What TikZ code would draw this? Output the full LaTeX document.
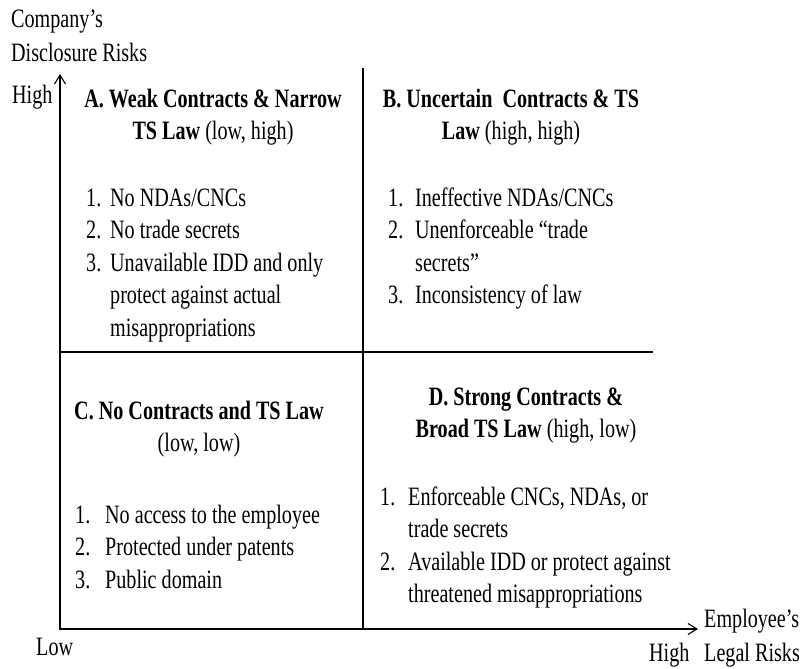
\documentclass[tikz,border=0pt]{standalone}
\usepackage{fontspec}
\setmainfont{Liberation Serif}[FakeStretch=0.76]
\usetikzlibrary{arrows.meta}
\newcommand\fsz{\fontsize{26.5}{32.5}\selectfont}
\begin{document}
\begin{tikzpicture}[x=1pt,y=-1pt,
  lbl/.style={inner sep=0pt, anchor=base west, font=\fsz},
  ttl/.style={inner sep=0pt, anchor=base, font=\fsz},
  axis/.style={line width=1.6pt, {Straight Barb[length=9pt,width=11pt,line width=1.1pt]}-{Straight Barb[length=9pt,width=11pt,line width=1.1pt]}},
  divider/.style={line width=1.5pt}]
\useasboundingbox (0,0) rectangle (801,669);
% coordinates
\coordinate (O) at (60,629);
\coordinate (ytip) at (60,74);
\coordinate (xtip) at (698,629);
\coordinate (vtop) at (363,68);
\coordinate (vbot) at (363,629);
\coordinate (hleft) at (60,352);
\coordinate (hright) at (653,352);
% lines
\draw[divider] (vtop) -- (vbot);
\draw[divider] (hleft) -- (hright);
\draw[axis] (ytip) -- (O) -- (xtip);
% axis labels
\node[lbl] (ylab1) at (11,28) {Company’s};
\node[lbl] (ylab2) at (11,62) {Disclosure Risks};
\node[lbl] (yhigh) at (12,103) {High};
\node[lbl] (low) at (36,655) {Low};
\node[lbl] (xhigh) at (649,661) {High};
\node[lbl] (xlab1) at (704,627) {Employee’s};
\node[lbl] (xlab2) at (704,661) {Legal Risks};
% titles
\node[ttl] (tA) at (213,107) {\begin{tabular}[t]{@{}c@{}}\textbf{A. Weak Contracts \& Narrow}\\\textbf{TS Law} (low, high)\end{tabular}};
\node[ttl] (tB) at (511,107) {\begin{tabular}[t]{@{}c@{}}\textbf{B. Uncertain\ \ Contracts \& TS}\\\textbf{Law} (high, high)\end{tabular}};
\node[ttl] (tC) at (199,419) {\begin{tabular}[t]{@{}c@{}}\textbf{C. No Contracts and TS Law}\\(low, low)\end{tabular}};
\node[ttl] (tD) at (526,405) {\begin{tabular}[t]{@{}c@{}}\textbf{D. Strong Contracts \&}\\\textbf{Broad TS Law} (high, low)\end{tabular}};
% lists
\node[lbl] (listA) at (86,206) {\begin{tabular}[t]{@{}p{24pt}@{}l@{}}1.& No NDAs/CNCs\\2.& No trade secrets\\3.& Unavailable IDD and only\\& protect against actual\\& misappropriations\end{tabular}};
\node[lbl] (listB) at (388,206) {\begin{tabular}[t]{@{}p{27pt}@{}l@{}}1.& Ineffective NDAs/CNCs\\2.& Unenforceable “trade\\& secrets”\\3.& Inconsistency of law\end{tabular}};
\node[lbl] (listC) at (75,523) {\begin{tabular}[t]{@{}p{30pt}@{}l@{}}1.& No access to the employee\\2.& Protected under patents\\3.& Public domain\end{tabular}};
\node[lbl] (listD) at (380,505) {\begin{tabular}[t]{@{}p{28pt}@{}l@{}}1.& Enforceable CNCs, NDAs, or\\& trade secrets\\2.& Available IDD or protect against\\& threatened misappropriations\end{tabular}};
\end{tikzpicture}
\end{document}
